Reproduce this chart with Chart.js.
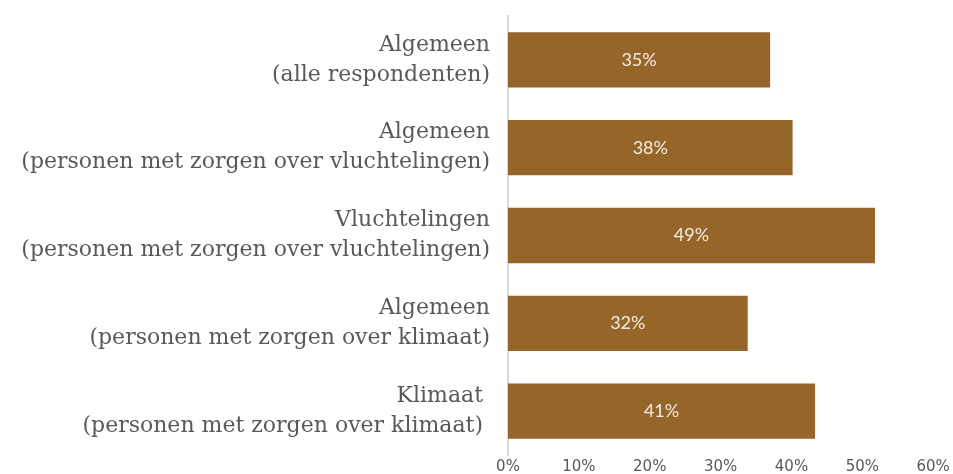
<!DOCTYPE html>
<html lang="nl">
<head>
    <meta charset="UTF-8">
    <title>Zorgen</title>
    <script src="https://cdn.jsdelivr.net/npm/chart.js@4.4.1/dist/chart.umd.min.js"></script>
    <style>
        * { margin: 0; padding: 0; box-sizing: border-box; }
        body { background: #ffffff; }
        .chart-container { width: 953px; height: 474px; position: relative; }
    </style>
</head>
<body>
    <div class="chart-container">
        <canvas id="zorgenChart"></canvas>
    </div>

    <script>
        // Categories (two lines each)
        const categories = [
            ['Algemeen', '(alle respondenten)'],
            ['Algemeen', '(personen met zorgen over vluchtelingen)'],
            ['Vluchtelingen', '(personen met zorgen over vluchtelingen)'],
            ['Algemeen', '(personen met zorgen over klimaat)'],
            ['Klimaat ', '(personen met zorgen over klimaat) ']
        ];
        const percentages = [35, 38, 49, 32, 41];
        const tickValues = [0, 10, 20, 30, 40, 50, 60];

        const barColor = '#96652A';
        const textGray = '#595959';

        // Draw the percentage inside each bar
        const barLabels = {
            id: 'barLabels',
            afterDatasetsDraw(chart) {
                const ctx = chart.ctx;
                const meta = chart.getDatasetMeta(0);
                ctx.save();
                ctx.font = '18px Lato, sans-serif';
                ctx.fillStyle = '#f3ece2';
                ctx.textAlign = 'center';
                ctx.textBaseline = 'middle';
                meta.data.forEach((bar, i) => {
                    const mid = (bar.x + bar.base) / 2;
                    ctx.fillText(percentages[i] + '%', mid, bar.y);
                });
                ctx.restore();
            }
        };

        const ctx = document.getElementById('zorgenChart').getContext('2d');
        new Chart(ctx, {
            type: 'bar',
            data: {
                labels: categories,
                datasets: [{
                    data: percentages,
                    backgroundColor: barColor,
                    categoryPercentage: 0.63,
                    barPercentage: 1.0
                }]
            },
            options: {
                indexAxis: 'y',
                responsive: true,
                maintainAspectRatio: false,
                animation: false,
                layout: { padding: { top: 16, right: 3, bottom: 0, left: 0 } },
                plugins: {
                    legend: { display: false },
                    tooltip: { enabled: false }
                },
                scales: {
                    x: {
                        display: false,
                        min: 0,
                        max: 58.9
                    },
                    x2: {
                        type: 'linear',
                        position: 'bottom',
                        min: 0,
                        max: 62.25,
                        afterBuildTicks(scale) {
                            scale.ticks = tickValues.map(v => ({ value: v }));
                        },
                        afterFit(scale) {
                            scale.height = 19;
                        },
                        grid: { display: false, drawTicks: false },
                        border: { display: false },
                        ticks: {
                            padding: 3,
                            color: textGray,
                            font: { family: '"DejaVu Sans", sans-serif', size: 15 },
                            callback: v => v + '%'
                        }
                    },
                    y: {
                        afterFit(scale) {
                            scale.width = 508;
                            scale.paddingTop = 0;
                            scale.paddingBottom = 0;
                        },
                        grid: { display: false },
                        border: { display: true, color: '#d9d9d9', width: 2 },
                        ticks: {
                            padding: 10,
                            color: textGray,
                            font: { family: '"DejaVu Serif", serif', size: 22, lineHeight: 1.36 }
                        }
                    }
                }
            },
            plugins: [barLabels]
        });
    </script>
</body>
</html>
